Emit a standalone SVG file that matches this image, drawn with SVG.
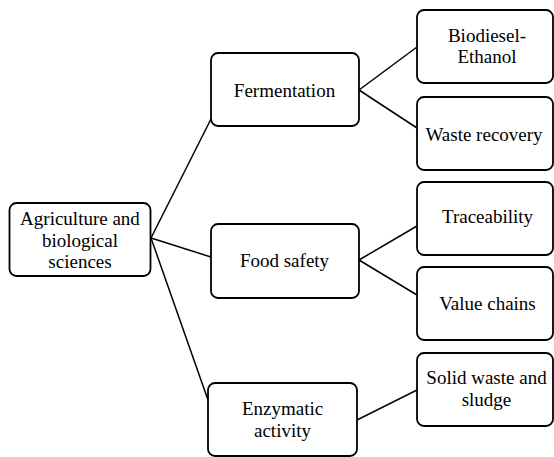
<svg xmlns="http://www.w3.org/2000/svg" width="554" height="457" viewBox="0 0 554 457">
<style>
rect.n{fill:#fff;stroke:#000;stroke-width:1.8}
#connectors line{stroke:#000;stroke-width:1.5}
text{font-family:"Times New Roman",Times,"Liberation Serif",serif;font-size:19px;text-anchor:middle;fill:#000}
</style>
<rect width="554" height="457" fill="#fff"/>
<g id="connectors">
<line x1="151" y1="238" x2="211" y2="119"/>
<line x1="151" y1="238" x2="211" y2="257"/>
<line x1="151" y1="238" x2="208" y2="400"/>
<line x1="359" y1="90" x2="417" y2="47"/>
<line x1="359" y1="90" x2="417" y2="128"/>
<line x1="359" y1="260" x2="417" y2="226"/>
<line x1="359" y1="260" x2="417" y2="295"/>
<line x1="357" y1="420" x2="417" y2="390"/>
</g>
<g id="agri">
<rect class="n" x="9.5" y="203" width="141" height="73" rx="7"/>
<text x="80" y="225">Agriculture and</text>
<text x="80" y="246.5">biological</text>
<text x="80" y="267.5">sciences</text>
</g>
<g id="fermentation">
<rect class="n" x="211" y="53" width="148" height="73" rx="7"/>
<text x="284.5" y="96.5">Fermentation</text>
</g>
<g id="foodsafety">
<rect class="n" x="211" y="224" width="148" height="74" rx="7"/>
<text x="284.5" y="266.5">Food safety</text>
</g>
<g id="enzymatic">
<rect class="n" x="208" y="383" width="149" height="73" rx="7"/>
<text x="282.5" y="415">Enzymatic</text>
<text x="282.5" y="436.5">activity</text>
</g>
<g id="biodiesel">
<rect class="n" x="417" y="10" width="136" height="73" rx="7"/>
<text x="487" y="41.5">Biodiesel-</text>
<text x="487" y="63">Ethanol</text>
</g>
<g id="waste">
<rect class="n" x="417" y="97" width="136" height="73" rx="7"/>
<text x="484" y="140.5">Waste recovery</text>
</g>
<g id="traceability">
<rect class="n" x="417" y="182" width="136" height="73" rx="7"/>
<text x="487.5" y="223">Traceability</text>
</g>
<g id="valuechains">
<rect class="n" x="417" y="267" width="136" height="73" rx="7"/>
<text x="487.5" y="310">Value chains</text>
</g>
<g id="solidwaste">
<rect class="n" x="417" y="353" width="136" height="73" rx="7"/>
<text x="486.5" y="384">Solid waste and</text>
<text x="486.5" y="406">sludge</text>
</g>
</svg>
